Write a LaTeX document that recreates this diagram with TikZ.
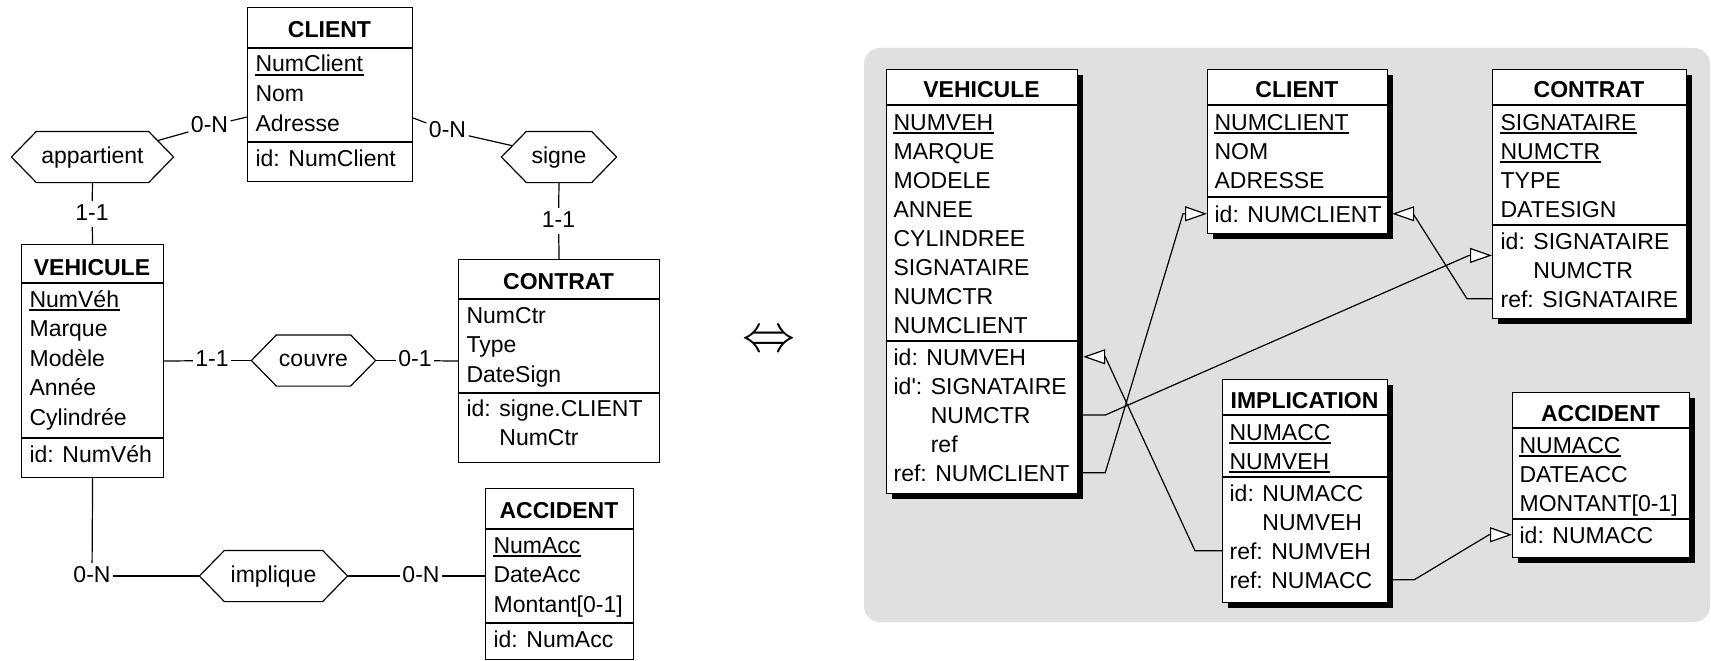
\documentclass[tikz,border=0pt]{standalone}
\usepackage{graphicx}
\usepackage{fontspec}
\setmainfont{Liberation Sans}
\usetikzlibrary{arrows.meta,calc,shadows}

\definecolor{panelgray}{RGB}{224,224,224}
\newcommand\erfont{\fontsize{23}{28}\selectfont}

\begin{document}
\begin{tikzpicture}[x=1pt,y=-1pt,line width=1.2pt,
  ent/.style={draw, fill=white, inner sep=0pt, anchor=north west},
  entR/.style={ent, general shadow={fill=black, shadow xshift=5pt, shadow yshift=-5pt}},
  att/.style={anchor=base west, inner sep=0pt, font=\erfont},
  ttl/.style={anchor=base, inner sep=0pt, font=\erfont\bfseries},
  card/.style={inner xsep=2pt, inner ysep=2pt, text height=16.5pt, text depth=4.5pt, font=\erfont},
  rel/.style={inner sep=0pt, minimum height=50pt, text height=16.5pt, text depth=4.5pt, font=\erfont},
  ul/.style={line width=1.1pt},
  fk/.style={-{Triangle[fill=white, length=22pt, width=15pt]}},
  panel/.style={fill=panelgray, rounded corners=16pt},
  equiv/.style={inner sep=0pt},
]
\useasboundingbox (0,0) rectangle (1711,661);

% ---------------- conceptual schema ----------------
% CLIENT
\node[ent, minimum width=165pt, minimum height=174pt] (cliL) at (247,7) {};
\draw ([yshift=-41pt]cliL.north west) -- ([yshift=-41pt]cliL.north east);
\draw ([yshift=-135pt]cliL.north west) -- ([yshift=-135pt]cliL.north east);
\node[ttl] (cliL-t) at (329.5,38) {CLIENT};
\node[att] (cliL-k) at (255,72) {NumClient};
\node[att] (cliL-a1) at (255,101.5) {Nom};
\node[att] (cliL-a2) at (255,131) {Adresse};
\node[att] (cliL-i1) at (255,166) {id: NumClient};

% VEHICULE
\node[ent, minimum width=142pt, minimum height=233pt] (vehL) at (21,244) {};
\draw ([yshift=-39pt]vehL.north west) -- ([yshift=-39pt]vehL.north east);
\draw ([yshift=-194pt]vehL.north west) -- ([yshift=-194pt]vehL.north east);
\node[ttl] (vehL-t) at (92,275) {VEHICULE};
\node[att] (vehL-k) at (29,307) {NumVéh};
\node[att] (vehL-a1) at (29,336.5) {Marque};
\node[att] (vehL-a2) at (29,366) {Modèle};
\node[att] (vehL-a3) at (29,395.5) {Année};
\node[att] (vehL-a4) at (29,425) {Cylindrée};
\node[att] (vehL-i1) at (29,462) {id: NumVéh};

% CONTRAT
\node[ent, minimum width=201pt, minimum height=203pt] (conL) at (458,259) {};
\draw ([yshift=-40pt]conL.north west) -- ([yshift=-40pt]conL.north east);
\draw ([yshift=-134pt]conL.north west) -- ([yshift=-134pt]conL.north east);
\node[ttl] (conL-t) at (558.5,289) {CONTRAT};
\node[att] (conL-a1) at (466,323) {NumCtr};
\node[att] (conL-a2) at (466,352.5) {Type};
\node[att] (conL-a3) at (466,382) {DateSign};
\node[att] (conL-i1) at (466,416) {id: signe.CLIENT};
\node[att] (conL-i2) at (466,445.5) {\hphantom{id: }NumCtr};

% ACCIDENT
\node[ent, minimum width=148pt, minimum height=171pt] (accL) at (485,488) {};
\draw ([yshift=-41pt]accL.north west) -- ([yshift=-41pt]accL.north east);
\draw ([yshift=-135pt]accL.north west) -- ([yshift=-135pt]accL.north east);
\node[ttl] (accL-t) at (559,518) {ACCIDENT};
\node[att] (accL-k) at (493,553) {NumAcc};
\node[att] (accL-a1) at (493,582.5) {DateAcc};
\node[att] (accL-a2) at (493,612) {Montant[0-1]};
\node[att] (accL-i1) at (493,647) {id: NumAcc};

% relationship types
\node[rel, minimum width=111pt] (app) at (92.5,157) {appartient};
\node[rel, minimum width=64pt] (sig) at (559,157) {signe};
\node[rel, minimum width=73pt] (cou) at (313.5,360.5) {couvre};
\node[rel, minimum width=97pt] (imp) at (273.5,576) {implique};
\foreach \r in {app,sig,cou,imp}
  \draw (\r.north west) -- (\r.north east) -- ([xshift=25pt]\r.east)
     -- (\r.south east) -- (\r.south west) -- ([xshift=-25pt]\r.west) -- cycle;

% cardinalities
\node[card] (c1) at (209.5,126) {0-N};
\node[card] (c2) at (447.5,131) {0-N};
\node[card] (c3) at (92,214) {1-1};
\node[card] (c4) at (558.5,221) {1-1};
\node[card] (c5) at (212,360.5) {1-1};
\node[card] (c6) at (415,360.5) {0-1};
\node[card] (c7) at (92,576) {0-N};
\node[card] (c8) at (421,576) {0-N};

% roles
\draw ($(app.north east)!0.36!([xshift=25pt]app.east)$) -- (c1);
\draw (c1) -- ([yshift=-110pt]cliL.north west);
\draw ([yshift=-111pt]cliL.north east) -- (c2);
\draw (c2) -- ($(sig.north west)!0.56!([xshift=-25pt]sig.west)$);
\draw (app.south) -- (c3);
\draw (c3) -- (vehL.north);
\draw (sig.south) -- (c4);
\draw (c4) -- (conL.north);
\draw (vehL.east) -- (c5);
\draw (c5) -- ([xshift=-25pt]cou.west);
\draw ([xshift=25pt]cou.east) -- (c6);
\draw (c6) -- (conL.west);
\draw (vehL.south) -- (c7);
\draw (c7) -- ([xshift=-25pt]imp.west);
\draw ([xshift=25pt]imp.east) -- (c8);
\draw (c8) -- (accL.west |- c8);

% equivalence sign
\node[equiv] (eqv) at (768.5,342) {\scalebox{5.3}{$\Leftrightarrow$}};

% ---------------- relational schema ----------------
\fill[panel] (864,48) rectangle (1710,622);

% VEHICULE
\node[entR, minimum width=191pt, minimum height=424pt] (vR) at (886,69) {};
\draw ([yshift=-36pt]vR.north west) -- ([yshift=-36pt]vR.north east);
\draw ([yshift=-272pt]vR.north west) -- ([yshift=-272pt]vR.north east);
\node[ttl] (vR-t) at (981.5,98) {VEHICULE};
\node[att] (vR-k) at (893,130) {NUMVEH};
\foreach \t [count=\i] in {MARQUE,MODELE,ANNEE,CYLINDREE,SIGNATAIRE,NUMCTR,NUMCLIENT}
  \node[att] (vR-a\i) at (893,130+29*\i) {\t};
\node[att] (vR-i1) at (893,365) {id: NUMVEH};
\node[att] (vR-i2) at (893,394) {id\textquotesingle: SIGNATAIRE};
\node[att] (vR-i3) at (893,423) {\hphantom{id\textquotesingle: }NUMCTR};
\node[att] (vR-i4) at (893,452) {\hphantom{id\textquotesingle: }ref};
\node[att] (vR-i5) at (893,481) {ref: NUMCLIENT};

% CLIENT
\node[entR, minimum width=180pt, minimum height=164pt] (clR) at (1207,69) {};
\draw ([yshift=-36pt]clR.north west) -- ([yshift=-36pt]clR.north east);
\draw ([yshift=-128pt]clR.north west) -- ([yshift=-128pt]clR.north east);
\node[ttl] (clR-t) at (1297,98) {CLIENT};
\node[att] (clR-k) at (1214,130) {NUMCLIENT};
\node[att] (clR-a1) at (1214,159) {NOM};
\node[att] (clR-a2) at (1214,188) {ADRESSE};
\node[att] (clR-i1) at (1214,222) {id: NUMCLIENT};

% CONTRAT
\node[entR, minimum width=194pt, minimum height=249pt] (cR) at (1492,69) {};
\draw ([yshift=-36pt]cR.north west) -- ([yshift=-36pt]cR.north east);
\draw ([yshift=-156pt]cR.north west) -- ([yshift=-156pt]cR.north east);
\node[ttl] (cR-t) at (1589,98) {CONTRAT};
\node[att] (cR-k1) at (1500,130) {SIGNATAIRE};
\node[att] (cR-k2) at (1500,159) {NUMCTR};
\node[att] (cR-a1) at (1500,188) {TYPE};
\node[att] (cR-a2) at (1500,217) {DATESIGN};
\node[att] (cR-i1) at (1500,249) {id: SIGNATAIRE};
\node[att] (cR-i2) at (1500,278) {\hphantom{id: }NUMCTR};
\node[att] (cR-i3) at (1500,307) {ref: SIGNATAIRE};

% IMPLICATION
\node[entR, minimum width=165pt, minimum height=223pt] (iR) at (1222,379) {};
\draw ([yshift=-36pt]iR.north west) -- ([yshift=-36pt]iR.north east);
\draw ([yshift=-98pt]iR.north west) -- ([yshift=-98pt]iR.north east);
\node[ttl] (iR-t) at (1304.5,408) {IMPLICATION};
\node[att] (iR-k1) at (1229,440) {NUMACC};
\node[att] (iR-k2) at (1229,469) {NUMVEH};
\node[att] (iR-i1) at (1229,501) {id: NUMACC};
\node[att] (iR-i2) at (1229,530) {\hphantom{id: }NUMVEH};
\node[att] (iR-i3) at (1229,559) {ref: NUMVEH};
\node[att] (iR-i4) at (1229,588) {ref: NUMACC};

% ACCIDENT
\node[entR, minimum width=177pt, minimum height=165pt] (aR) at (1512,392) {};
\draw ([yshift=-36pt]aR.north west) -- ([yshift=-36pt]aR.north east);
\draw ([yshift=-127pt]aR.north west) -- ([yshift=-127pt]aR.north east);
\node[ttl] (aR-t) at (1600.5,421) {ACCIDENT};
\node[att] (aR-k) at (1519,453) {NUMACC};
\node[att] (aR-a1) at (1519,482) {DATEACC};
\node[att] (aR-a2) at (1519,511) {MONTANT[0-1]};
\node[att] (aR-i1) at (1519,543) {id: NUMACC};

% primary key underlines
\foreach \k in {cliL-k,vehL-k,accL-k,vR-k,clR-k,cR-k1,cR-k2,iR-k1,iR-k2,aR-k}
  \draw[ul] ([yshift=-3pt]\k.base west) -- ([yshift=-3pt]\k.base east);

% foreign keys
\coordinate (cR-idm) at ($(cR-i1.west)!0.5!(cR-i2.west)$);
\draw[fk] (vR-i5.west -| vR.east) -- ++(27pt,0pt)
  -- ([xshift=-24pt]clR-i1.west -| clR.west) -- (clR-i1.west -| clR.west);
\draw[fk] (vR-i3.west -| vR.east) -- ++(27pt,0pt)
  -- ([xshift=-23pt]cR-idm -| cR.west) -- (cR-idm -| cR.west);
\draw[fk] (cR-i3.west -| cR.west) -- ++(-25pt,0pt)
  -- ([xshift=25pt]clR-i1.west -| clR.east) -- ([xshift=4pt]clR-i1.west -| clR.east);
\draw[fk] (iR-i3.west -| iR.west) -- ++(-27pt,0pt)
  -- ([xshift=27pt]vR-i1.west -| vR.east) -- ([xshift=5pt]vR-i1.west -| vR.east);
\draw[fk] (iR-i4.west -| iR.east) -- ++(26pt,0pt)
  -- ([xshift=-23pt]aR-i1.west -| aR.west) -- (aR-i1.west -| aR.west);
\end{tikzpicture}
\end{document}
